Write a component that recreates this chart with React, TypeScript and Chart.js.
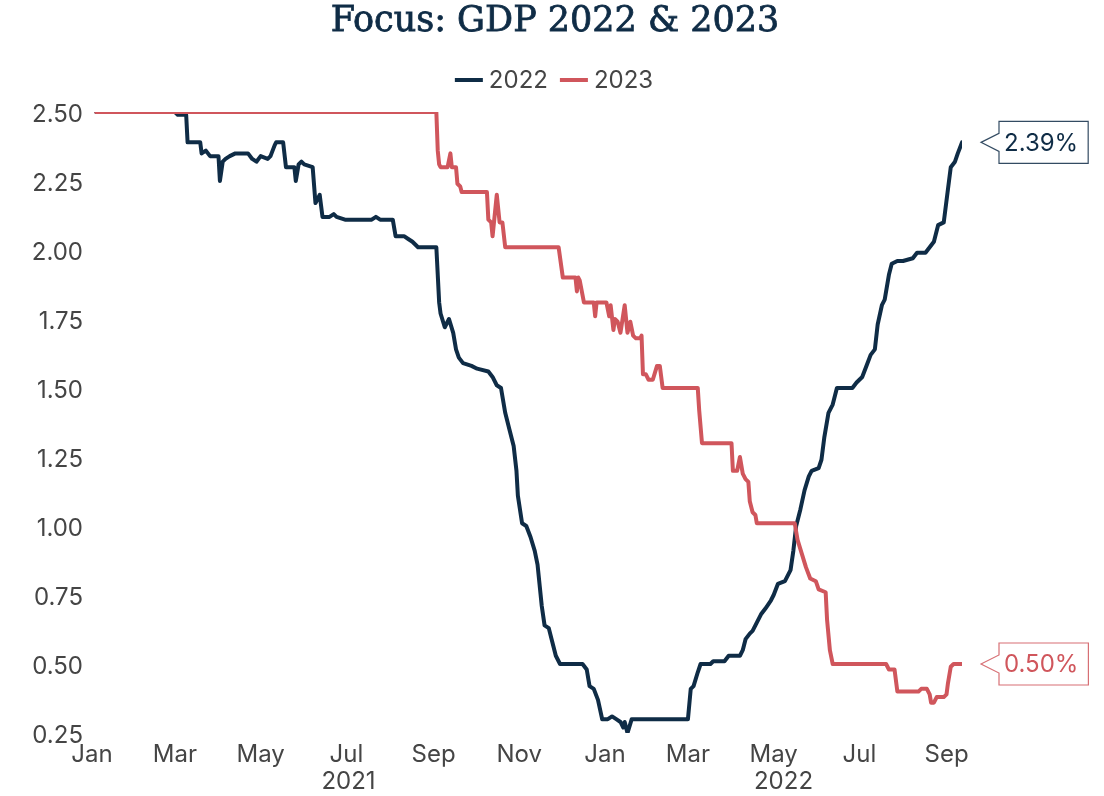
import React, { useEffect, useRef } from "react";
import { Chart, registerables } from "chart.js";

Chart.register(...registerables);

// ---------------- data ----------------
const TITLE = "Focus: GDP 2022 & 2023";
const SERIES_LABELS = ["2022", "2023"];
const BASE_DATE = "2021-01-01"; // day offsets below count from this date

const MONTH_TICK_DATES = [
  "2021-01-01", "2021-03-01", "2021-05-01", "2021-07-01", "2021-09-01", "2021-11-01",
  "2022-01-01", "2022-03-01", "2022-05-01", "2022-07-01", "2022-09-01",
];
const MONTH_TICK_LABELS = ["Jan", "Mar", "May", "Jul", "Sep", "Nov", "Jan", "Mar", "May", "Jul", "Sep"];
const YEAR_LABELS = ["2021", "2022"];
const YEAR_STARTS = ["2021-01-01", "2022-01-01"];

const Y_MIN = 0.25;
const Y_MAX = 2.5;
const Y_STEP = 0.25;

// GDP 2022 expectations (days since BASE_DATE, %)
const days2022 = [
  3, 59, 61, 67, 68, 77, 78, 81, 84, 90,
  91, 93, 95, 98, 102, 111, 114, 117, 120, 125,
  127, 130, 131, 136, 138, 144, 145, 147, 149, 151,
  157, 159, 162, 164, 169, 172, 174, 180, 199, 202,
  205, 214, 216, 222, 225, 228, 232, 245, 247, 248,
  251, 254, 257, 259, 261, 264, 270, 274, 282, 285,
  288, 291, 294, 297, 300, 302, 303, 306, 309, 312,
  315, 317, 320, 322, 325, 327, 330, 333, 349, 352,
  354, 357, 360, 363, 367, 370, 373, 376, 378, 379,
  381, 384, 386, 424, 426, 428, 431, 433, 440, 442,
  450, 453, 458, 461, 463, 465, 468, 470, 473, 476,
  479, 483, 485, 488, 493, 497, 499, 501, 504, 507,
  510, 512, 517, 519, 521, 524, 527, 530, 541, 544,
  548, 551, 554, 557, 559, 562, 564, 567, 569, 573,
  577, 584, 587, 593, 596, 599, 602, 606, 609, 611,
  614, 616, 619,
];
const gdp2022 = [
  2.50, 2.50, 2.49, 2.49, 2.39, 2.39, 2.35, 2.36, 2.34, 2.34,
  2.25, 2.32, 2.33, 2.34, 2.35, 2.35, 2.33, 2.32, 2.34, 2.33,
  2.34, 2.38, 2.39, 2.39, 2.30, 2.30, 2.25, 2.31, 2.32, 2.31,
  2.30, 2.17, 2.20, 2.12, 2.12, 2.13, 2.12, 2.11, 2.11, 2.12,
  2.11, 2.11, 2.05, 2.05, 2.04, 2.03, 2.01, 2.01, 1.81, 1.77,
  1.72, 1.75, 1.70, 1.64, 1.61, 1.59, 1.58, 1.57, 1.56, 1.54,
  1.51, 1.50, 1.41, 1.35, 1.29, 1.20, 1.11, 1.01, 1.00, 0.96,
  0.91, 0.86, 0.71, 0.64, 0.63, 0.59, 0.53, 0.50, 0.50, 0.48,
  0.42, 0.41, 0.37, 0.30, 0.30, 0.31, 0.30, 0.29, 0.27, 0.29,
  0.25, 0.30, 0.30, 0.30, 0.41, 0.42, 0.47, 0.50, 0.50, 0.51,
  0.51, 0.53, 0.53, 0.53, 0.55, 0.59, 0.61, 0.62, 0.65, 0.68,
  0.70, 0.73, 0.75, 0.79, 0.80, 0.84, 0.91, 1.00, 1.06, 1.13,
  1.18, 1.20, 1.21, 1.24, 1.32, 1.41, 1.44, 1.50, 1.50, 1.52,
  1.54, 1.58, 1.62, 1.64, 1.73, 1.80, 1.82, 1.91, 1.95, 1.96,
  1.96, 1.97, 1.99, 1.99, 2.01, 2.03, 2.09, 2.10, 2.22, 2.30,
  2.32, 2.35, 2.39,
];

// GDP 2023 expectations (days since BASE_DATE, %)
const days2023 = [
  3, 245, 246, 247, 248, 253, 255, 256, 259, 260,
  262, 263, 281, 282, 284, 285, 288, 290, 292, 294,
  332, 335, 344, 345, 346, 347, 350, 357, 358, 359,
  366, 368, 369, 371, 372, 374, 376, 379, 381, 383,
  385, 387, 390, 391, 392, 394, 396, 399, 402, 404,
  406, 431, 432, 434, 455, 456, 459, 461, 463, 465,
  467, 468, 470, 472, 473, 500, 502, 505, 508, 511,
  515, 517, 522, 523, 525, 527, 565, 567, 571, 573,
  588, 590, 594, 596, 597, 599, 601, 606, 608, 609,
  611, 613, 619,
];
const gdp2023 = [
  2.50, 2.50, 2.36, 2.31, 2.30, 2.30, 2.35, 2.30, 2.30, 2.24,
  2.23, 2.21, 2.21, 2.11, 2.10, 2.05, 2.20, 2.10, 2.10, 2.01,
  2.01, 1.90, 1.90, 1.85, 1.90, 1.89, 1.81, 1.81, 1.76, 1.81,
  1.81, 1.76, 1.80, 1.71, 1.75, 1.74, 1.70, 1.80, 1.70, 1.74,
  1.69, 1.68, 1.68, 1.69, 1.55, 1.55, 1.53, 1.53, 1.58, 1.58,
  1.50, 1.50, 1.42, 1.30, 1.30, 1.20, 1.20, 1.25, 1.19, 1.17,
  1.16, 1.09, 1.05, 1.04, 1.01, 1.01, 0.95, 0.90, 0.85, 0.81,
  0.80, 0.77, 0.76, 0.66, 0.55, 0.50, 0.50, 0.48, 0.48, 0.40,
  0.40, 0.41, 0.41, 0.39, 0.36, 0.36, 0.38, 0.38, 0.39, 0.43,
  0.49, 0.50, 0.50,
];

// ---------------- styles ----------------
const NAVY = "#0f2c46";
const RED = "#d0565c";
const TEXT = "#454545";
const FONT = "Inter, 'Noto Sans', sans-serif";
const TITLE_FONT = "'DejaVu Serif', serif";
const TICK_SIZE = 24;

const DAY_MS = 86400000;
const toDay = (d: string) => (Date.parse(d) - Date.parse(BASE_DATE)) / DAY_MS;

const titlePlugin = {
  id: "customTitle",
  afterDraw(chart: any) {
    const { ctx } = chart;
    ctx.save();
    ctx.font = `35px ${TITLE_FONT}`;
    ctx.fillStyle = NAVY;
    ctx.strokeStyle = NAVY;
    ctx.lineWidth = 0.8;
    ctx.textAlign = "center";
    ctx.textBaseline = "middle";
    const cx = chart.width / 2 + 3;
    ctx.fillText(TITLE, cx, 22);
    ctx.strokeText(TITLE, cx, 22);
    ctx.restore();
  },
};

const legendPlugin = {
  id: "customLegend",
  afterDraw(chart: any) {
    const { ctx, chartArea } = chart;
    const y = chartArea.top - 32;
    ctx.save();
    ctx.font = `${TICK_SIZE}px ${FONT}`;
    ctx.textBaseline = "middle";
    ctx.textAlign = "left";
    const items = chart.data.datasets.map((ds: any) => ({
      label: ds.label,
      color: ds.borderColor,
      w: ctx.measureText(ds.label).width,
    }));
    const markW = 28, gap = 6, sep = 12;
    const total = items.reduce((s: number, it: any) => s + markW + gap + it.w, 0) + sep * (items.length - 1);
    let x = chart.width / 2 - total / 2 + 2;
    items.forEach((it: any) => {
      ctx.fillStyle = it.color;
      ctx.fillRect(x, y - 2, markW, 4);
      ctx.fillStyle = TEXT;
      ctx.fillText(it.label, x + markW + gap, y + 1);
      x += markW + gap + it.w + sep;
    });
    ctx.restore();
  },
};

const yearPlugin = {
  id: "yearLabels",
  afterDraw(chart: any) {
    const { ctx, chartArea, scales } = chart;
    const xs = scales.x;
    ctx.save();
    ctx.font = `${TICK_SIZE}px ${FONT}`;
    ctx.fillStyle = TEXT;
    ctx.textAlign = "center";
    ctx.textBaseline = "middle";
    YEAR_LABELS.forEach((lab, i) => {
      const start = toDay(YEAR_STARTS[i]);
      const end = i + 1 < YEAR_STARTS.length ? toDay(YEAR_STARTS[i + 1]) : xs.max;
      ctx.fillText(lab, xs.getPixelForValue((start + end) / 2), chartArea.bottom + 49);
    });
    ctx.restore();
  },
};

const calloutPlugin = {
  id: "callouts",
  afterDatasetsDraw(chart: any) {
    const { ctx } = chart;
    ctx.save();
    ctx.font = `${TICK_SIZE}px ${FONT}`;
    chart.data.datasets.forEach((ds: any, i: number) => {
      const meta = chart.getDatasetMeta(i);
      const pt = meta.data[meta.data.length - 1];
      const val = ds.data[ds.data.length - 1].y;
      const text = `${val.toFixed(2)}%`;
      const tw = ctx.measureText(text).width;
      const tipX = pt.x + 19;
      const bx = tipX + 18;
      const bw = tw + 15;
      const h = 42;
      const cy = pt.y;
      ctx.beginPath();
      ctx.moveTo(tipX, cy);
      ctx.lineTo(bx, cy - 9);
      ctx.lineTo(bx, cy - h / 2);
      ctx.lineTo(bx + bw, cy - h / 2);
      ctx.lineTo(bx + bw, cy + h / 2);
      ctx.lineTo(bx, cy + h / 2);
      ctx.lineTo(bx, cy + 9);
      ctx.closePath();
      ctx.fillStyle = "#ffffff";
      ctx.fill();
      ctx.lineWidth = 1.2;
      ctx.strokeStyle = ds.borderColor;
      ctx.globalAlpha = 0.85;
      ctx.stroke();
      ctx.globalAlpha = 1;
      ctx.fillStyle = ds.borderColor;
      ctx.textAlign = "left";
      ctx.textBaseline = "middle";
      ctx.fillText(text, bx + 5, cy + 1);
    });
    ctx.restore();
  },
};

export default function App() {
  const canvasRef = useRef<HTMLCanvasElement | null>(null);

  useEffect(() => {
    if (!canvasRef.current) return;
    const tickDays = MONTH_TICK_DATES.map(toDay);
    const series = [
      { label: SERIES_LABELS[0], days: days2022, vals: gdp2022, color: NAVY, order: 1 },
      { label: SERIES_LABELS[1], days: days2023, vals: gdp2023, color: RED, order: 0 },
    ];
    const chart = new Chart(canvasRef.current, {
      type: "line",
      data: {
        datasets: series.map((s) => ({
          label: s.label,
          data: s.days.map((d, i) => ({ x: d, y: s.vals[i] })),
          borderColor: s.color,
          backgroundColor: s.color,
          borderWidth: 4,
          pointRadius: 0,
          tension: 0,
          borderJoinStyle: "round" as const,
          borderCapStyle: "round" as const,
          order: s.order,
        })),
      },
      options: {
        responsive: false,
        animation: false,
        events: [],
        layout: { padding: { left: 0, right: 142, top: 112, bottom: 0 } },
        plugins: {
          legend: { display: false },
          tooltip: { enabled: false },
          title: { display: false },
        },
        scales: {
          x: {
            type: "linear",
            min: 0,
            max: days2022[days2022.length - 1],
            grid: { display: false, drawTicks: false },
            border: { display: false },
            afterBuildTicks: (scale: any) => {
              scale.ticks = tickDays.map((v) => ({ value: v }));
            },
            afterFit: (scale: any) => {
              scale.height = 63;
            },
            ticks: {
              autoSkip: false,
              maxRotation: 0,
              padding: 7,
              color: TEXT,
              font: { family: FONT, size: TICK_SIZE },
              callback: (_v: any, idx: number) => MONTH_TICK_LABELS[idx],
            },
          },
          y: {
            min: Y_MIN,
            max: Y_MAX,
            grid: { display: false, drawTicks: false },
            border: { display: false },
            afterFit: (scale: any) => {
              scale.width = 92;
            },
            ticks: {
              stepSize: Y_STEP,
              padding: 9,
              labelOffset: 3,
              color: TEXT,
              font: { family: FONT, size: TICK_SIZE },
              callback: (v: any) => Number(v).toFixed(2),
            },
          },
        },
      },
      plugins: [titlePlugin, legendPlugin, yearPlugin, calloutPlugin],
    });
    return () => chart.destroy();
  }, []);

  return (
    <div style={{ position: "absolute", left: 0, top: 0, width: 1104, height: 796, background: "#fff" }}>
      <canvas ref={canvasRef} width={1104} height={796} style={{ display: "block" }} />
    </div>
  );
}
